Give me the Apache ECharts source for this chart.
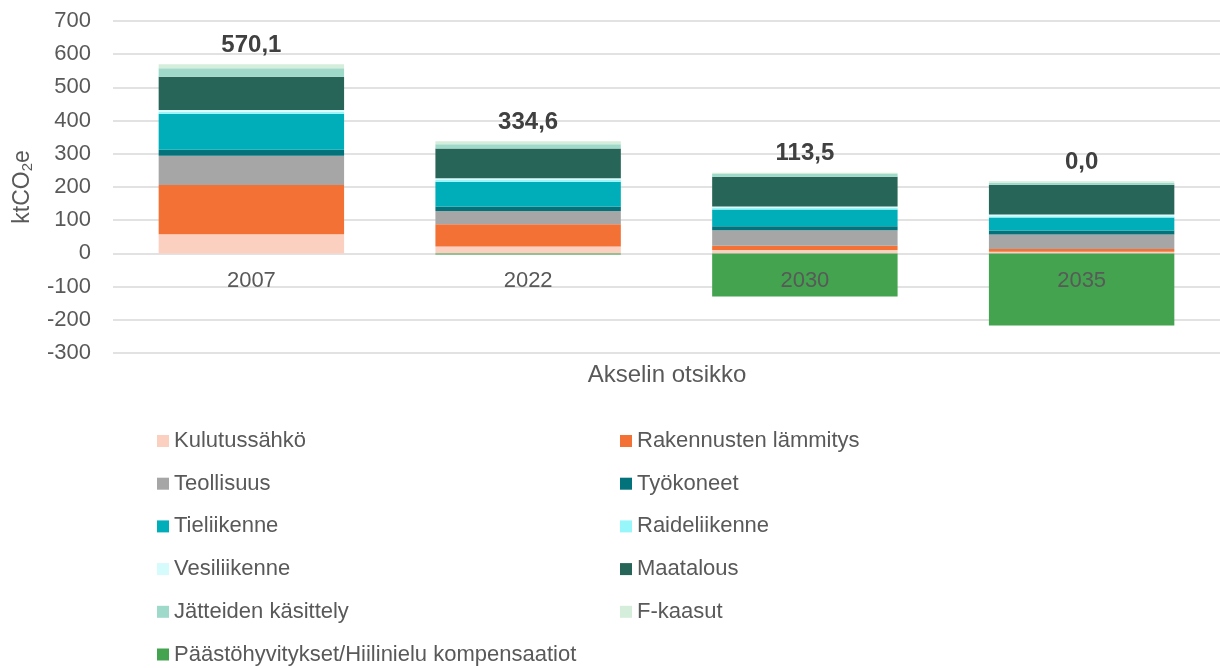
<!DOCTYPE html>
<html>
<head>
<meta charset="utf-8">
<script src="https://cdn.jsdelivr.net/npm/echarts@6/dist/echarts.min.js"></script>
<style>
  html, body { margin: 0; padding: 0; background: #fff; }
  #main { width: 1220px; height: 668px; }
</style>
</head>
<body>
<div id="main"></div>
<script>
// vuodet
const categories = ['2007', '2022', '2030', '2035'];

// päästöt sektoreittain, ktCO2e
const kulutussahko = [58, 21, 10, 5];
const rakennustenLammitys = [148, 67, 13, 8];
const teollisuus = [88, 40, 47, 44];
const tyokoneet = [18, 13, 12, 12];
const tieliikenne = [109, 75, 50, 39];
const raideliikenne = [6, 5, 5, 4];
const vesiliikenne = [5, 5, 4, 5];
const maatalous = [100, 90, 90, 90];
const jatteet = [26, 13, 8, 6];
const fKaasut = [12, 9, 4, 4];
const kompensaatiot = [0, -3.4, -129.5, -217];

// nettopäästöt (arvot pylväiden päällä)
const netTotals = [570.1, 334.6, 113.5, 0.0];

const yTicks = { min: -300, max: 700, interval: 100 };

const FONT = 'Liberation Sans, Arial, sans-serif';
const TXT = '#595959';

const sectors = [
  { name: 'Kulutussähkö', data: kulutussahko, color: '#FBD0C0' },
  { name: 'Rakennusten lämmitys', data: rakennustenLammitys, color: '#F47136' },
  { name: 'Teollisuus', data: teollisuus, color: '#A6A6A6' },
  { name: 'Työkoneet', data: tyokoneet, color: '#03727A' },
  { name: 'Tieliikenne', data: tieliikenne, color: '#00AEBA' },
  { name: 'Raideliikenne', data: raideliikenne, color: '#97F6FA' },
  { name: 'Vesiliikenne', data: vesiliikenne, color: '#D5FBFC' },
  { name: 'Maatalous', data: maatalous, color: '#276558' },
  { name: 'Jätteiden käsittely', data: jatteet, color: '#9FD9C9' },
  { name: 'F-kaasut', data: fKaasut, color: '#D5EEDB' },
  { name: 'Päästöhyvitykset/Hiilinielu kompensaatiot', data: kompensaatiot, color: '#43A34F' }
];

// legend is two columns, filled row by row
const legendOrder = [
  'Kulutussähkö', 'Rakennusten lämmitys',
  'Teollisuus', 'Työkoneet',
  'Tieliikenne', 'Raideliikenne',
  'Vesiliikenne', 'Maatalous',
  'Jätteiden käsittely', 'F-kaasut',
  'Päästöhyvitykset/Hiilinielu kompensaatiot'
];

// label sits on top of the positive part of each stack
const positiveTops = categories.map(function (c, i) {
  let s = 0;
  sectors.forEach(function (sec) { if (sec.data[i] > 0) s += sec.data[i]; });
  return s;
});

const series = sectors.map(function (sec) {
  return {
    name: sec.name,
    type: 'bar',
    stack: 'total',
    barCategoryGap: '33%',
    itemStyle: { color: sec.color },
    emphasis: { disabled: true },
    data: sec.data
  };
});

series.push({
  name: 'netto',
  type: 'scatter',
  symbolSize: 0,
  silent: true,
  itemStyle: { color: 'transparent', opacity: 1 },
  label: {
    show: true,
    position: 'top',
    distance: 7,
    opacity: 1,
    fontFamily: FONT,
    fontSize: 24,
    fontWeight: 'bold',
    color: '#404040',
    formatter: function (p) {
      return netTotals[p.dataIndex].toFixed(1).replace('.', ',');
    }
  },
  data: positiveTops,
  z: 5
});

// category names just under the zero line (like Excel), drawn over the bars
series.push({
  name: 'vuosi',
  type: 'scatter',
  symbolSize: 0,
  silent: true,
  itemStyle: { color: 'transparent', opacity: 1 },
  label: {
    show: true,
    position: 'bottom',
    distance: 17,
    opacity: 1,
    fontFamily: FONT,
    fontSize: 22,
    color: TXT,
    formatter: function (p) { return categories[p.dataIndex]; }
  },
  data: categories.map(function () { return 0; }),
  z: 5
});

const legends = legendOrder.map(function (name, k) {
  const col = k % 2;
  const row = Math.floor(k / 2);
  return {
    orient: 'horizontal',
    left: col === 0 ? 157 : 620,
    top: 441 + row * 42.7 - 12,
    padding: 0,
    itemWidth: 12,
    itemHeight: 12,
    itemGap: 0,
    icon: 'rect',
    selectedMode: false,
    textStyle: { fontFamily: FONT, fontSize: 22, color: TXT, lineHeight: 24 },
    data: [name]
  };
});

const chart = echarts.init(document.getElementById('main'));
chart.setOption({
  animation: false,
  backgroundColor: '#fff',
  grid: { left: 113, right: 0, top: 21, bottom: 315, containLabel: false },
  legend: legends,
  xAxis: {
    type: 'category',
    data: categories,
    axisLine: { show: false },
    axisTick: { show: false },
    axisLabel: { show: false }
  },
  yAxis: {
    type: 'value',
    min: yTicks.min,
    max: yTicks.max,
    interval: yTicks.interval,
    name: 'ktCO{sub|2}e',
    nameLocation: 'middle',
    nameRotate: 90,
    nameGap: 78,
    nameTextStyle: {
      fontFamily: FONT,
      fontSize: 23,
      color: TXT,
      rich: { sub: { fontFamily: FONT, fontSize: 15, color: TXT, padding: [10, 0, 0, 0] } }
    },
    axisLine: { show: false },
    axisTick: { show: false },
    axisLabel: { margin: 22, fontFamily: FONT, fontSize: 22, color: TXT },
    splitLine: { lineStyle: { color: '#D9D9D9', width: 1.5 } }
  },
  graphic: [
    {
      type: 'text',
      x: 667,
      y: 375,
      style: {
        text: 'Akselin otsikko',
        align: 'center',
        verticalAlign: 'middle',
        fontFamily: FONT,
        fontSize: 24,
        fill: TXT
      }
    }
  ],
  series: series
});
</script>
</body>
</html>
